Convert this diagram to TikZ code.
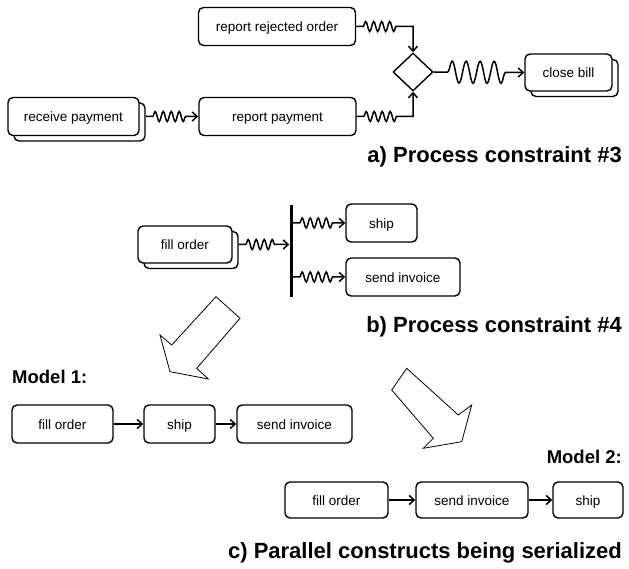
\documentclass[tikz,border=0pt]{standalone}
\usepackage{fontspec}
\setmainfont{Liberation Sans}
\usetikzlibrary{shapes.geometric,decorations.pathmorphing,arrows.meta,shadows}

\begin{document}
\begin{tikzpicture}[x=1pt, y=-1pt, >={Straight Barb[length=5pt,width=9pt]}]
        \tikzstyle{every node}=[inner sep=0pt]
        \tikzstyle{task}=[draw, rounded corners=5pt, line width=1.4pt, fill=white, minimum height=38pt, text height=10.5pt, text depth=0pt, font=\fontsize{13.5}{15}\selectfont]
        \tikzstyle{multi}=[task, general shadow={shadow xshift=6pt, shadow yshift=-5.5pt, draw, fill=white, line width=1.4pt}]
        \tikzstyle{gate}=[draw, diamond, line width=1.4pt, minimum width=40pt, minimum height=38pt]
        \tikzstyle{fork}=[fill=black, minimum width=3pt, minimum height=92pt]
        \tikzstyle{title}=[anchor=east, font=\bfseries\fontsize{22}{26}\selectfont]
        \tikzstyle{model}=[font=\bfseries\fontsize{18.5}{22}\selectfont]
        \tikzstyle{flow}=[line width=1.5pt, ->]
        \tikzstyle{zz}=[decoration={snake, segment length=8pt, amplitude=5pt, pre length=7pt, post length=12pt}]
        \tikzstyle{zzcorner}=[decoration={snake, segment length=8pt, amplitude=5pt, pre length=7pt, post length=6pt}]
        \tikzstyle{zzbig}=[decoration={snake, segment length=14pt, amplitude=11pt, pre length=14pt, post length=16pt}]
        \useasboundingbox (0,0) rectangle (629,569);
        \node [task, minimum width=157pt] (rro) at (277,26.5) {report rejected order};
        \node [multi, minimum width=131pt] (rp) at (73.5,116.5) {receive payment};
        \node [task, minimum width=157pt] (rep) at (277.5,116.5) {report payment};
        \node [gate] (gw) at (413,72) {};
        \node [multi, minimum width=87pt, minimum height=37pt] (cb) at (568.5,72.5) {close bill};
        \draw [flow] (rro.east) decorate[zzcorner]{-- ++(46,0)} -| (gw.north);
        \draw [flow] (rep.east) decorate[zzcorner]{-- ++(46,0)} -| (gw.south);
        \draw [flow] (gw.east) decorate[zzbig]{-- (cb.west)};
        \draw [flow] ([xshift=6pt]rp.east) decorate[zz]{-- (rep.west)};
        \node [title] (ta) at (622,157) {a) Process constraint \#3};
        \node [multi, minimum width=94pt, minimum height=37pt] (fo) at (185,244.5) {fill order};
        \node [fork] (bar) at (291,251) {};
        \node [task, minimum width=71pt] (sh) at (381.5,223) {ship};
        \node [task, minimum width=114pt] (si) at (403,277) {send invoice};
        \draw [flow] ([xshift=6pt]fo.east) decorate[zz]{-- (bar.west |- fo.east)};
        \draw [flow] (bar.east |- sh.west) decorate[zz]{-- (sh.west)};
        \draw [flow] (bar.east |- si.west) decorate[zz]{-- (si.west)};
        \node [title] (tb) at (622,327) {b) Process constraint \#4};
        \draw [line width=0.8pt, line join=miter] (216,296.7) -- (240,318.3) -- (196.7,368.3) -- (208.3,379) -- (170,371.7) -- (160,335) -- (171.7,345) -- cycle;
        \draw [line width=0.8pt, line join=miter] (406.7,368.3) -- (458.3,415) -- (471.7,405) -- (461.7,441.7) -- (423.3,448.3) -- (433.3,438.3) -- (391.7,390) -- cycle;
        \node [model, anchor=west] (m1) at (12,377) {Model 1:};
        \node [task, minimum width=101pt] (f1) at (62.5,424) {fill order};
        \node [task, minimum width=71pt] (s1) at (179.5,424) {ship};
        \node [task, minimum width=115pt] (i1) at (294.5,424) {send invoice};
        \draw [flow] (f1) -- (s1);
        \draw [flow] (s1) -- (i1);
        \node [model, anchor=east] (m2) at (622,457) {Model 2:};
        \node [task, minimum width=103pt, minimum height=36pt] (f2) at (336.5,500) {fill order};
        \node [task, minimum width=112pt, minimum height=36pt] (i2) at (472,500) {send invoice};
        \node [task, minimum width=70pt, minimum height=36pt] (s2) at (588,500) {ship};
        \draw [flow] (f2) -- (i2);
        \draw [flow] (i2) -- (s2);
        \node [title] (tc) at (622,553) {c) Parallel constructs being serialized};
    \end{tikzpicture}
\end{document}
